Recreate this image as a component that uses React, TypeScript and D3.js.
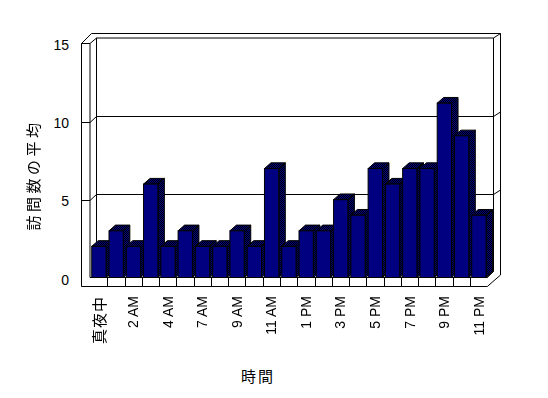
import React from 'react';
import * as d3 from 'd3';

const categories = ["真夜中", "1 AM", "2 AM", "3 AM", "4 AM", "5 AM", "7 AM", "8 AM", "9 AM", "10 AM", "11 AM", "正午", "1 PM", "2 PM", "3 PM", "4 PM", "5 PM", "6 PM", "7 PM", "8 PM", "9 PM", "10 PM", "11 PM"];
const visits = [2, 3, 2, 6, 2, 3, 2, 2, 3, 2, 7, 2, 3, 3, 5, 4, 7, 6, 7, 7, 11.2, 9.1, 4];
const yTicks = [0, 5, 10, 15];
const yTitle = "訪問数の平均";
const xTitle = "時間";

const W = 548, H = 398;
const FONT = "'Liberation Sans', Arial, 'Noto Sans CJK JP', sans-serif";
const CJK = "'Noto Sans CJK JP', sans-serif";

export default function App() {
  const x = d3.scaleBand<string>().domain(categories).range([90, 487.3]).paddingInner(0).paddingOuter(0);
  const y = d3.scaleLinear().domain([0, 15]).range([277.5, 44]);
  const D = { dx: 6.5, dy: -6 };
  const BD = { dx: 6.5, dy: -5.7 };
  const bw = x.bandwidth() * 0.83;
  const off = x.bandwidth() * 0.1;
  const base = y(0);
  const xL = 81.5, xI = 90, xB = 96.5, xR = 493.5, xRO = 500.5;
  const yTopI = 38, yTopO = 33.5, yBot = 286.5;
  const xFloorEnd = x.range()[1];

  const lines: string[] = [];
  [5, 10].forEach(v => {
    const yf = Math.round(y(v)) + 0.5;
    const yb = yf + D.dy;
    lines.push(`M${xL},${yf}H${xI}L${xB},${yb}H${xR}L${xRO},${yb - 4.5}`);
  });

  const pts = (arr: number[][]) => arr.map(p => p.join(',')).join(' ');
  const gray = { filter: 'grayscale(1)' };

  return (
    <svg width={W} height={H} style={{ position: 'absolute', left: 0, top: 0, background: '#fff' }} fontFamily={FONT}>
      <defs>
        <pattern id="dith" patternUnits="userSpaceOnUse" width="2" height="2">
          <rect width="2" height="2" fill="#000080" />
          <rect width="1" height="1" fill="#000000" />
          <rect x="1" y="1" width="1" height="1" fill="#000000" />
        </pattern>
      </defs>
      <rect width={W} height={H} fill="#fff" />
      <g stroke="#000" strokeWidth={1} fill="none">
        <path d={`M${xL},${yBot}V43.5L91.5,${yTopO}H${xRO}V275L${xFloorEnd},${yBot}Z`} fill="#fff" />
        <path d={`M${xL},43.5H${xI}V${base}`} />
        <path d={`M${xI},43.5L${xB},${yTopI}H${xR}L${xRO},${yTopO}`} />
        <path d={`M${xB},${yTopI}V${base + D.dy}H${xR}`} />
        <path d={`M${xR},${yTopI}V${base + D.dy}`} />
        {lines.map((d, i) => <path key={i} d={d} />)}
        <path d={`M${xI},${base}H${xFloorEnd}L${xR},${base + D.dy}`} />
      </g>
      <g>
        {categories.map((c, i) => {
          const bx = (x(c) as number) + off;
          const yt = y(visits[i]);
          const side = [[bx + bw, yt], [bx + bw + BD.dx, yt + BD.dy], [bx + bw + BD.dx, base + BD.dy], [bx + bw, base]];
          const top = [[bx, yt], [bx + bw, yt], [bx + bw + BD.dx, yt + BD.dy], [bx + BD.dx, yt + BD.dy]];
          return (
            <g key={c} stroke="#000" strokeWidth={1}>
              <polygon points={pts(side)} fill="url(#dith)" />
              <polygon points={pts(top)} fill="url(#dith)" />
              <rect x={bx} y={yt} width={bw} height={base - yt} fill="#000080" />
            </g>
          );
        })}
      </g>
      <g stroke="#000" strokeWidth={1} fill="none">
        <path d={`M${xI},${base}H${xFloorEnd}`} />
        {categories.slice(1).map(c => {
          const xx = Math.round(x(c) as number) + 0.5;
          return <path key={c} d={`M${xx},${base}V${yBot}`} />;
        })}
      </g>
      <g fontSize={14} fill="#000">
        {yTicks.map(v => (
          <text key={v} x={69} y={y(v) + (v === 0 ? 2 : 1)} textAnchor="end" dominantBaseline="central" fill="#000">{v}</text>
        ))}
      </g>
      <g fontSize={14} fill="#000" style={gray}>
        {categories.map((c, i) => i % 2 === 0 ? (
          <text key={c} transform={`translate(${(x(c) as number) + x.bandwidth() / 2},296) rotate(-90)`}
            textAnchor="end" dominantBaseline="central" fill="#000"
            fontFamily={i === 0 ? CJK : FONT} fontSize={i === 0 ? 15 : 14} letterSpacing={i === 0 ? 1 : 0}>{c}</text>
        ) : null)}
      </g>
      <g style={gray}>
        <text transform="translate(32,175) rotate(-90)" textAnchor="middle" dominantBaseline="central" fill="#000" fontFamily={CJK} fontSize={15} letterSpacing={3.5}>{yTitle}</text>
      </g>
      <text x={258} y={375} textAnchor="middle" dominantBaseline="central" fill="#000" fontFamily={CJK} fontSize={15} letterSpacing={2}>{xTitle}</text>
    </svg>
  );
}
